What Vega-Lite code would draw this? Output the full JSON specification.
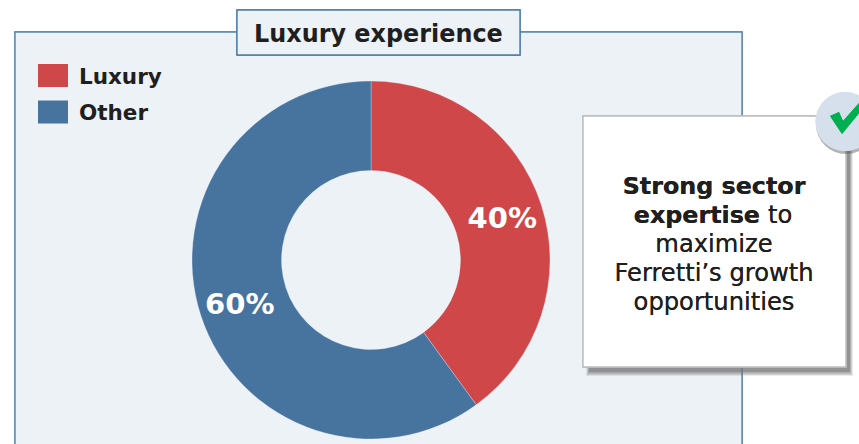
{
"$schema":"https://vega.github.io/schema/vega-lite/v6.json",
"width":859,"height":444,"padding":0,"autosize":{"type":"none"},
"background":"white",
"config":{"view":{"stroke":null}},
"title":{"text":"Luxury experience","anchor":"start","frame":"group","dx":254,"dy":47,"offset":0,"font":"DejaVu Sans","fontSize":23.9,"fontWeight":"bold","color":"#1f1f1f","zindex":1},
"data":{"values":[{"segment":"Luxury","share":40,"label":"40%"},{"segment":"Other","share":60,"label":"60%"}]},
"layer":[
{"mark":{"type":"rect","x":15,"x2":742,"y":32,"y2":470,"fill":"#edf2f7","stroke":"#5a87ae","strokeWidth":1.4},"encoding":{}},
{"mark":{"type":"rect","x":237,"x2":520,"y":10,"y2":55,"fill":"#edf2f7","stroke":"#4f7da6","strokeWidth":1.4},"encoding":{}},
{"mark":{"type":"arc","x":371,"y":260,"radius":179,"innerRadius":89.5,"stroke":"#edf2f7","strokeWidth":0.3},
 "encoding":{"theta":{"field":"share","type":"quantitative","stack":true},
  "order":{"field":"segment"},
  "color":{"field":"segment","type":"nominal","scale":{"domain":["Luxury","Other"],"range":["#cf4749","#46749f"]},
   "legend":{"title":null,"orient":"none","legendX":38,"legendY":62.5,"symbolType":"M-1,-0.9H1V0.634H-1Z","symbolSize":900,"symbolStrokeWidth":0,"symbolOpacity":1,"labelFont":"DejaVu Sans","labelFontSize":21.5,"labelFontWeight":"bold","labelColor":"#1f1f1f","labelOffset":11,"rowPadding":10.5,"labelLimit":200,"labelBaseline":"middle"}}}},
{"mark":{"type":"text","x":371,"y":262,"radius":138,"font":"DejaVu Sans","fontSize":29,"fontWeight":"bold","fill":"white"},
 "encoding":{"theta":{"field":"share","type":"quantitative","stack":true},"order":{"field":"segment"},"text":{"field":"label"}}},
{"mark":{"type":"rect","x":586,"x2":853,"y":119,"y2":376,"fill":"#777","opacity":0.07},"encoding":{}},
{"mark":{"type":"rect","x":587,"x2":852,"y":120,"y2":375,"fill":"#777","opacity":0.12},"encoding":{}},
{"mark":{"type":"rect","x":588,"x2":851,"y":121,"y2":373.5,"fill":"#777","opacity":0.2},"encoding":{}},
{"mark":{"type":"rect","x":589,"x2":850,"y":122,"y2":372,"fill":"#777","opacity":0.28},"encoding":{}},
{"mark":{"type":"rect","x":583,"x2":846,"y":116,"y2":367,"fill":"white","stroke":"#bdbdbd","strokeWidth":1.4},"encoding":{}},
{"mark":{"type":"point","x":846,"y":124,"shape":"circle","size":3600,"filled":true,"fill":"#555","opacity":0.25},"encoding":{}},
{"mark":{"type":"point","x":845,"y":121.5,"shape":"circle","size":3481,"filled":true,"fill":"#d6e0ec","opacity":1},"encoding":{}},
{"mark":{"type":"point","x":845,"y":118,"shape":"M-0.75,-0.1L-0.3,-0.3L-0.1,0.15L0.7,-0.75L1,-0.6L-0.15,0.8Z","size":1600,"filled":true,"fill":"#00b050","opacity":1},"encoding":{}},
{"mark":{"type":"text","x":714,"y":194,"text":"Strong sector","align":"center","baseline":"alphabetic","font":"DejaVu Sans","fontSize":23.8,"fontWeight":"bold","fill":"#1f1f1f"},"encoding":{}},
{"mark":{"type":"text","x":760,"y":223,"text":"expertise","align":"right","baseline":"alphabetic","font":"DejaVu Sans","fontSize":23.8,"fontWeight":"bold","fill":"#1f1f1f"},"encoding":{}},
{"mark":{"type":"text","x":768,"y":223,"text":"to","align":"left","baseline":"alphabetic","font":"DejaVu Sans","fontSize":24.2,"fill":"#1f1f1f"},"encoding":{}},
{"mark":{"type":"text","x":714,"y":252,"text":"maximize","align":"center","baseline":"alphabetic","font":"DejaVu Sans","fontSize":24.2,"fill":"#1f1f1f"},"encoding":{}},
{"mark":{"type":"text","x":714,"y":281,"text":"Ferretti’s growth","align":"center","baseline":"alphabetic","font":"DejaVu Sans","fontSize":24.2,"fill":"#1f1f1f"},"encoding":{}},
{"mark":{"type":"text","x":714,"y":310,"text":"opportunities","align":"center","baseline":"alphabetic","font":"DejaVu Sans","fontSize":24.2,"fill":"#1f1f1f"},"encoding":{}}
]
}
